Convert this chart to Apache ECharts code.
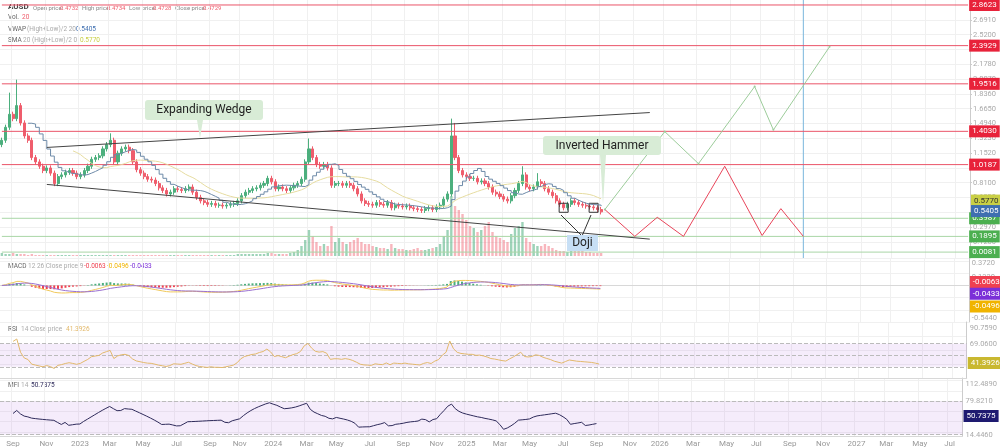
<!DOCTYPE html>
<html>
<head>
<meta charset="utf-8">
<script src="https://cdn.jsdelivr.net/npm/echarts@6/dist/echarts.min.js"></script>
<style>html,body{margin:0;padding:0;background:#fff}#chart{width:1000px;height:448px}</style>
</head>
<body>
<div id="chart"></div>
<script>
// weekly closes, Aug 2022 -> Sep 2025
const closes = [
  1.30,1.45,1.60,1.55,1.70,1.50,1.35,1.30,
  1.10,1.05,1.00,0.95,0.98,0.92,0.80,0.88,
  0.90,0.93,0.95,0.92,0.88,0.90,0.95,1.00,
  1.08,1.10,1.12,1.20,1.25,1.30,1.05,1.15,
  1.20,1.22,1.18,1.05,0.96,0.92,0.88,0.85,
  0.84,0.80,0.75,0.72,0.68,0.70,0.74,0.73,
  0.72,0.74,0.76,0.70,0.64,0.60,0.58,0.56,
  0.57,0.55,0.55,0.54,0.55,0.56,0.57,0.60,
  0.66,0.70,0.72,0.74,0.75,0.78,0.80,0.86,
  0.82,0.74,0.76,0.74,0.72,0.75,0.78,0.80,
  0.85,1.05,1.20,1.10,1.02,1.00,1.02,0.98,
  0.78,0.80,0.80,0.78,0.80,0.78,0.74,0.68,
  0.60,0.57,0.56,0.55,0.58,0.56,0.55,0.58,
  0.52,0.55,0.54,0.53,0.54,0.52,0.51,0.50,
  0.49,0.51,0.52,0.50,0.53,0.55,0.62,0.68,
  1.35,1.10,0.95,0.90,0.88,0.86,0.86,0.82,
  0.83,0.80,0.76,0.70,0.68,0.65,0.62,0.60,
  0.66,0.72,0.80,0.90,0.76,0.74,0.76,0.82,
  0.80,0.74,0.70,0.66,0.60,0.56,0.52,0.56,
  0.60,0.58,0.56,0.55,0.54,0.53,0.52,0.50,0.4729
];
const spikeHighs = {2: 1.85, 4: 2.0, 29: 1.38, 82: 1.32, 120: 1.55, 121: 1.5, 139: 1.0, 143: 0.92};
// volume (relative units)
const volumes = [
  3,2,2,3,2,2,2,1,2,1,1,1,1,1,1,1,1,1,1,1,1,1,1,1,1,1,1,1,1,1,1,1,
  1,1,1,1,1,1,1,1,1,1,1,1,1,1,1,1,1,1,1,1,1,1,1,1,1,1,1,1,1,1,1,2,
  2,2,2,2,2,2,2,3,3,2,2,2,2,3,4,6,10,16,26,20,14,10,12,10,
  30,14,18,14,12,14,16,18,14,12,12,10,9,8,8,7,12,8,7,7,6,6,7,8,
  6,6,7,8,9,12,20,26,60,50,46,42,36,30,28,24,
  26,30,34,24,20,18,16,14,22,28,30,34,18,14,12,10,
  10,12,10,8,6,5,5,4,6,8,6,5,4,4,3,3,3
];
const redLevels = ['2.8623', '2.3929', '1.9516', '1.4030', '1.0187'];
const greenLevels = ['0.3987', '0.1895', '0.0081'];
const priceTicks = [2.691,2.52,2.349,2.178,2.007,1.836,1.665,1.494,1.323,1.152,0.981,0.81,0.639,0.468,0.297,0.126];
const upperWedge = [[12, 1.217], [172.8, 1.62]];
const lowerWedge = [[12, 0.79], [172.8, 0.158]];
const bullPath = [[161, 0.50], [176.5, 1.40], [185.6, 1.03], [200.5, 1.92], [206, 1.42], [221, 2.38]];
const bearPath = [[161, 0.50], [169, 0.19], [175, 0.41], [182, 0.19], [193, 1.00], [203, 0.20], [208, 0.51], [214, 0.19]];
const dojiIdx = [150, 158, 161];
const nowIdx = 214;
const monthNames = ['Jan','Feb','Mar','Apr','May','Jun','Jul','Aug','Sep','Oct','Nov','Dec'];
const totalWeeks = 259;

// categories
const start = new Date(Date.UTC(2022, 7, 4));
const dates = [];
for (let i = 0; i < totalWeeks; i++) {
  dates.push(new Date(start.getTime() + i * 7 * 86400000).toISOString().slice(0, 10));
}
// week just before an odd month begins carries the label
const labelIdx = new Set();
for (let i = 1; i < totalWeeks; i++) {
  const d = new Date(dates[i]), p = new Date(dates[i - 1]);
  if (d.getUTCMonth() !== p.getUTCMonth() && p.getUTCMonth() % 2 === 1) labelIdx.add(i - 1);
}
const fmtDate = v => {
  const d = new Date(v); d.setUTCDate(d.getUTCDate() + 7);
  const m = d.getUTCMonth();
  return m === 0 ? String(d.getUTCFullYear()) : monthNames[m];
};

// candles
const ohlc = [], volData = [];
closes.forEach((c, i) => {
  const o = i === 0 ? 1.25 : closes[i - 1];
  const hi = spikeHighs[i] || Math.max(o, c) + 0.03;
  const lo = Math.min(o, c) - 0.03;
  ohlc.push([o, c, lo, hi]);
  volData.push({value: volumes[i], itemStyle: {color: c >= o ? 'rgba(76,175,125,0.55)' : 'rgba(239,93,108,0.45)'}});
});

function sma(arr, n) {
  return arr.map((_, i) => i < n - 1 ? null : arr.slice(i - n + 1, i + 1).reduce((a, b) => a + b, 0) / n);
}
function ema(arr, n) {
  const k = 2 / (n + 1); let e = arr[0];
  return arr.map(v => (e = v * k + e * (1 - k)));
}
const typical = ohlc.map(d => (d[2] + d[3]) / 2);
const smaLine = sma(typical, 20);
const vwapLine = sma(typical, 8);
const ema26 = ema(closes, 26);
const macd = ema(closes, 12).map((v, i) => v - ema26[i]);
const signal = ema(macd, 9);
const hist = macd.map((v, i) => v - signal[i]);
function rsi(arr, n) {
  let g = 0, l = 0;
  return arr.map((v, i) => {
    if (i === 0) return null;
    const ch = v - arr[i - 1];
    g = (g * (n - 1) + Math.max(ch, 0)) / n;
    l = (l * (n - 1) + Math.max(-ch, 0)) / n;
    return i < 3 ? null : 100 - 100 / (1 + g / (l || 1e-6));
  });
}
const rsiLine = rsi(closes, 14).map(v => v == null ? null : 37 + (v - 30) * 0.65);
const mfiLine = (() => {
  const mf = typical.map((t, i) => t * volumes[i]);
  return typical.map((t, i) => {
    if (i < 3) return null;
    let p = 0, n = 0;
    for (let j = Math.max(1, i - 13); j <= i; j++) {
      if (typical[j] > typical[j - 1]) p += mf[j]; else n += mf[j];
    }
    return 25 + (100 - 100 / (1 + p / (n || 1e-6))) * 0.55;
  });
})();

const chart = echarts.init(document.getElementById('chart'));
const grids = [
  {left: 0, right: 30, top: 0, height: 258},
  {left: 0, right: 30, top: 192, height: 64},
  {left: 0, right: 30, top: 258, height: 64},
  {left: 0, right: 30, top: 322, height: 56},
  {left: 0, right: 30, top: 378, height: 58}
];
const gridLine = {show: true, lineStyle: {color: '#f0f0f0', width: 1}};
const xAxes = grids.map((g, k) => ({
  type: 'category', gridIndex: k, data: dates, boundaryGap: true,
  axisLine: {show: k >= 2, lineStyle: {color: '#d8d8d8'}},
  axisTick: {show: false},
  axisLabel: {show: k === 4, interval: i => labelIdx.has(i), formatter: fmtDate, color: '#999', fontSize: 8, fontFamily: 'Roboto', margin: 4},
  splitLine: k === 1 ? {show: false} : {show: true, interval: i => labelIdx.has(i), lineStyle: {color: '#f0f0f0'}}
}));
const yLab = {color: '#aaa', fontSize: 7.5, fontFamily: 'Roboto', margin: 3, formatter: v => v.toFixed(4)};
const yAxes = [
  {gridIndex: 0, position: 'right', min: -0.06, max: 2.92, axisLine: {show: true, lineStyle: {color: '#ccc'}},
   axisTick: {show: true, customValues: priceTicks, length: 2}, axisLabel: Object.assign({customValues: priceTicks}, yLab), splitLine: gridLine},
  {gridIndex: 1, position: 'right', min: 0, max: 64, show: false, splitLine: {show: false}},
  {gridIndex: 2, position: 'right', min: -0.6, max: 0.45, axisLine: {show: true, lineStyle: {color: '#ccc'}}, axisTick: {show: false},
   axisLabel: Object.assign({customValues: [0.372, 0.133, -0.544]}, yLab), splitLine: gridLine},
  {gridIndex: 3, position: 'right', min: 20, max: 100, axisLine: {show: true, lineStyle: {color: '#ccc'}}, axisTick: {show: false},
   axisLabel: Object.assign({customValues: [90.759, 69.06, 35.9]}, yLab), splitLine: gridLine},
  {gridIndex: 4, position: 'right', min: 12, max: 125, axisLine: {show: true, lineStyle: {color: '#ccc'}}, axisTick: {show: false},
   axisLabel: Object.assign({customValues: [112.489, 79.821, 14.446]}, yLab), splitLine: gridLine}
];

const boxLabel = (text, bg, fg, dy) => ({show: true, position: 'end', formatter: text, backgroundColor: bg, color: fg || '#fff',
  fontSize: 8, fontFamily: 'Roboto', padding: [2, 3], distance: 1, offset: [0, dy || 0]});
const hidden = {color: 'rgba(0,0,0,0)', width: 0, type: 'solid'};
const boxLine = (v, bg, fg, dy) => ({yAxis: Number(v), lineStyle: hidden, label: boxLabel(v, bg, fg, dy)});

const lineSeries = (name, data, color, extra) => Object.assign({name, type: 'line', data, showSymbol: false, symbol: 'none',
  lineStyle: {color, width: 1}, silent: true, z: 5}, extra || {});
const dashed = v => ({yAxis: v, lineStyle: {color: '#bbb', type: 'dashed', width: 1}, label: {show: false}});
// horizontal support / resistance levels as full-width lines with a value tag
const levelSeries = (v, lineColor, tagColor) => lineSeries('lvl' + v, [[0, Number(v)], [totalWeeks - 1, Number(v)]], lineColor, {
  z: 3, endLabel: {show: true, formatter: v, backgroundColor: tagColor, color: '#fff', fontSize: 8, fontFamily: 'Roboto', padding: [2, 3], distance: 1}});

const series = [
  {type: 'candlestick', name: 'AUSD', data: ohlc, barWidth: 2.6,
   itemStyle: {color: '#4caf7d', color0: '#ef5d6c', borderColor: '#4caf7d', borderColor0: '#ef5d6c'},
   markLine: {symbol: 'none', silent: true, data: [boxLine('0.5770', '#c9cf45', '#333', -2), boxLine('0.5405', '#3f6fb0', '#fff', 5)]},
   markPoint: {data: dojiIdx.map(i => ({coord: [i, closes[i]], symbol: 'rect', symbolSize: 9,
     itemStyle: {color: 'rgba(255,255,255,0)', borderColor: '#333', borderWidth: 1}}))}},
  ...redLevels.map(v => levelSeries(v, '#ea5468', '#e8223a')),
  ...greenLevels.map(v => levelSeries(v, '#a9d6a6', '#4caf50')),
  lineSeries('now', [[nowIdx, -0.06], [nowIdx, 2.92]], '#7ab6dc', {z: 2}),
  lineSeries('SMA', smaLine, '#e6dca0'),
  lineSeries('VWAP', vwapLine, '#6d8aa8', {step: 'end'}),
  lineSeries('upper', upperWedge, '#444'),
  lineSeries('lower', lowerWedge, '#444'),
  lineSeries('bull', bullPath, '#9ccc9a', {showSymbol: true, symbol: 'circle', symbolSize: 2, itemStyle: {color: '#9ccc9a'}}),
  lineSeries('bear', bearPath, '#e8455a', {showSymbol: true, symbol: 'circle', symbolSize: 3, itemStyle: {color: '#e8455a'}}),
  {type: 'bar', name: 'Vol', xAxisIndex: 1, yAxisIndex: 1, data: volData, barWidth: 2.4, silent: true},
  {type: 'bar', name: 'hist', xAxisIndex: 2, yAxisIndex: 2, barWidth: 2, silent: true,
   data: hist.map(v => ({value: v, itemStyle: {color: v >= 0 ? '#4caf7d' : '#ef4050'}}))},
  lineSeries('macd', macd, '#f0c85a', {xAxisIndex: 2, yAxisIndex: 2}),
  lineSeries('signal', signal, '#9a70d0', {xAxisIndex: 2, yAxisIndex: 2,
    markLine: {symbol: 'none', silent: true, data: [
      boxLine('-0.0063', '#ef4050', '#fff', -4),
      boxLine('-0.0433', '#7b2fd8', '#fff', 6),
      boxLine('-0.0496', '#f0b400', '#fff', 18)]}}),
  lineSeries('rsi', rsiLine, '#e2b86a', {xAxisIndex: 3, yAxisIndex: 3,
    markArea: {silent: true, itemStyle: {color: 'rgba(200,150,235,0.18)'}, data: [[{yAxis: 35.9}, {yAxis: 69.06}]]},
    markLine: {symbol: 'none', silent: true, data: [dashed(69.06), dashed(52.5), dashed(35.9), boxLine('41.3926', '#c9b830')]}}),
  lineSeries('mfi', mfiLine, '#2e2a5a', {xAxisIndex: 4, yAxisIndex: 4,
    markArea: {silent: true, itemStyle: {color: 'rgba(200,150,235,0.18)'}, data: [[{yAxis: 14.446}, {yAxis: 79.821}]]},
    markLine: {symbol: 'none', silent: true, data: [dashed(79.821), dashed(14.446), boxLine('50.7375', '#1e1a70')]}})
];

const small = {fontSize: 6, fontFamily: 'Roboto', fill: '#888'};
const txt = (x, y, t, st) => ({type: 'text', left: x, top: y, style: Object.assign({}, small, {text: t}, st || {})});
const callout = (x, y, w, h, text, bg, tipX, tipY) => [
  {type: 'polygon', shape: {points: [[tipX - 3, y + h], [tipX + 3, y + h], [tipX, tipY]]}, style: {fill: bg}, z: 10},
  {type: 'rect', shape: {x, y, width: w, height: h, r: 3}, style: {fill: bg}, z: 10},
  {type: 'text', x: x + w / 2, y: y + h / 2, style: {text, fontSize: 12, fontFamily: 'Roboto', fill: '#222', align: 'center', verticalAlign: 'middle'}, z: 11}
];
chart.setOption({
  animation: false,
  grid: grids, xAxis: xAxes, yAxis: yAxes, series,
  graphic: [
    txt(8, 3, 'AUSD', {fontSize: 8, fontWeight: 'bold', fill: '#444'}),
    txt(33, 5, 'Open price:', {}), txt(60, 5, '0.4732', {fill: '#ef5d6c'}),
    txt(82, 5, 'High price:', {}), txt(107, 5, '0.4734', {fill: '#ef5d6c'}),
    txt(129, 5, 'Low price:', {}), txt(153, 5, '0.4728', {fill: '#ef5d6c'}),
    txt(175, 5, 'Close price:', {}), txt(203, 5, '0.4729', {fill: '#ef5d6c'}),
    txt(8, 14, 'Vol.', {fontSize: 6.5, fill: '#666'}), txt(22, 14, '20', {fontSize: 6.5, fill: '#ef5d6c'}),
    txt(8, 26, 'VWAP', {fontSize: 6.5, fill: '#666'}), txt(27, 26, '(High+Low)/2 20', {fontSize: 6.5, fill: '#aaa'}), txt(76, 26, '0.5405', {fontSize: 6.5, fill: '#3f6fb0'}),
    txt(8, 37, 'SMA', {fontSize: 6.5, fill: '#666'}), txt(23, 37, '20 (High+Low)/2 0', {fontSize: 6.5, fill: '#aaa'}), txt(80, 37, '0.5770', {fontSize: 6.5, fill: '#c9cf45'}),
    txt(8, 263, 'MACD', {fontSize: 6.5, fill: '#666'}), txt(28, 263, '12 26 Close price 9', {fontSize: 6.5, fill: '#aaa'}),
    txt(84, 263, '-0.0063', {fontSize: 6.5, fill: '#ef4050'}), txt(107, 263, '-0.0496', {fontSize: 6.5, fill: '#f0b400'}), txt(130, 263, '-0.0433', {fontSize: 6.5, fill: '#7b2fd8'}),
    txt(8, 326, 'RSI', {fontSize: 6.5, fill: '#666'}), txt(21, 326, '14 Close price', {fontSize: 6.5, fill: '#aaa'}), txt(66, 326, '41.3926', {fontSize: 6.5, fill: '#e2b86a'}),
    txt(8, 382, 'MFI', {fontSize: 6.5, fill: '#666'}), txt(21, 382, '14', {fontSize: 6.5, fill: '#aaa'}), txt(31, 382, '50.7375', {fontSize: 6.5, fill: '#2e2a5a'}),
    ...callout(145, 100, 118, 20, 'Expanding Wedge', '#d8ecd6', 200, 138),
    ...callout(543, 136, 118, 19, 'Inverted Hammer', '#d8ecd6', 603, 204),
    {type: 'polyline', shape: {points: [[561, 215], [582, 236], [591, 215]]}, style: {stroke: '#333', lineWidth: 1, fill: null}, z: 9},
    {type: 'rect', shape: {x: 567, y: 235, width: 31, height: 16}, style: {fill: '#c7dff5'}, z: 10},
    {type: 'text', x: 582.5, y: 243, style: {text: 'Doji', fontSize: 12, fontFamily: 'Roboto', fill: '#222', align: 'center', verticalAlign: 'middle'}, z: 11}
  ]
});
</script>
</body>
</html>
